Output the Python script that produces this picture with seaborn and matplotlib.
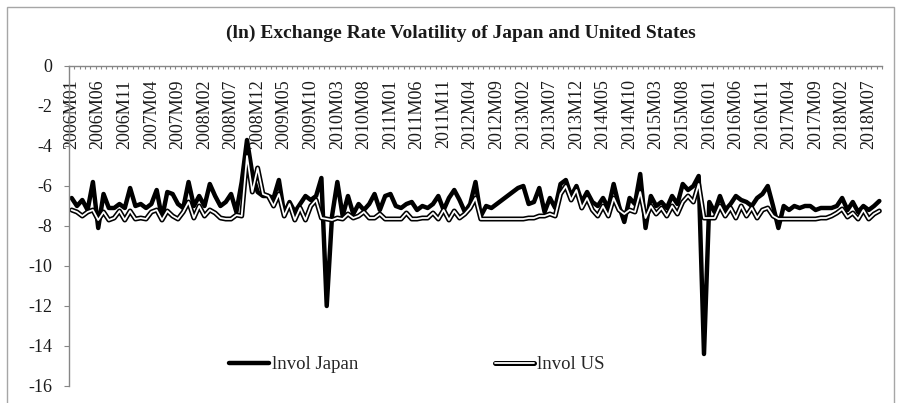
import matplotlib
matplotlib.use("Agg")
import matplotlib.pyplot as plt
import matplotlib.patheffects as pe
from matplotlib.patches import Rectangle
import numpy as np
import pandas as pd
import seaborn as sns

# monthly categories 2006M01 .. 2018M09
months = [f"{y}M{m:02d}" for y in range(2006, 2019) for m in range(1, 13)][:153]

lnvol_japan = [
    -6.6, -7.0, -6.7, -7.2, -5.8, -8.1, -6.4, -7.1, -7.1, -6.9, -7.1, -6.1,   # 2006
    -7.0, -6.9, -7.1, -6.9, -6.2, -7.6, -6.3, -6.4, -6.9, -7.1, -5.8, -7.0,   # 2007
    -6.5, -7.0, -5.9, -6.5, -7.0, -6.8, -6.4, -7.3, -5.8, -3.7, -5.4, -6.3,   # 2008
    -6.5, -6.5, -6.6, -5.7, -7.4, -6.8, -7.3, -6.9, -6.5, -6.7, -6.5, -5.6,   # 2009
    -12.0, -7.5, -5.8, -7.5, -6.5, -7.4, -6.9, -7.2, -6.9, -6.4, -7.2, -6.5,  # 2010
    -6.4, -7.0, -7.1, -6.9, -6.8, -7.2, -7.0, -7.1, -6.9, -6.5, -7.2, -6.6,   # 2011
    -6.2, -6.7, -7.3, -6.9, -5.8, -7.5, -7.0, -7.1, -6.9, -6.7, -6.5, -6.3,   # 2012
    -6.1, -6.0, -6.9, -6.8, -6.1, -7.3, -6.6, -7.1, -5.9, -5.7, -6.5, -6.0,   # 2013
    -6.8, -6.3, -6.8, -7.0, -6.6, -7.1, -5.9, -7.0, -7.8, -6.6, -6.9, -5.4,   # 2014
    -8.1, -6.5, -7.0, -6.8, -7.1, -6.5, -6.9, -5.9, -6.2, -6.0, -5.5, -14.4,  # 2015
    -6.8, -7.3, -6.5, -7.2, -6.9, -6.5, -6.7, -6.8, -7.0, -6.6, -6.4, -6.0,   # 2016
    -7.0, -8.1, -7.0, -7.2, -7.0, -7.1, -7.0, -7.0, -7.2, -7.1, -7.1, -7.1,   # 2017
    -7.0, -6.6, -7.2, -6.8, -7.3, -7.0, -7.2, -7.0, -6.75,                    # 2018
]

lnvol_us = [
    -7.2, -7.3, -7.5, -7.3, -7.2, -7.7, -7.3, -7.7, -7.6, -7.25, -7.7, -7.25,
    -7.65, -7.6, -7.65, -7.3, -7.2, -7.7, -7.25, -7.5, -7.65, -7.3, -6.8, -7.6,
    -7.0, -7.5, -7.2, -7.35, -7.6, -7.65, -7.65, -7.45, -7.5, -4.5, -6.3, -5.1,
    -6.4, -6.5, -7.0, -6.4, -7.5, -6.9, -7.7, -7.1, -7.7, -7.0, -6.7, -7.6,
    -7.65, -7.7, -7.6, -7.65, -7.4, -7.6, -7.5, -7.3, -7.6, -7.6, -7.4, -7.65,
    -7.65, -7.65, -7.65, -7.35, -7.65, -7.65, -7.6, -7.6, -7.35, -7.65, -7.2, -7.7,
    -7.25, -7.6, -7.4, -7.1, -6.6, -7.65, -7.65, -7.65, -7.65, -7.65, -7.65, -7.65,
    -7.65, -7.65, -7.6, -7.6, -7.5, -7.5, -7.4, -7.5, -6.4, -6.0, -6.7, -6.2,
    -7.1, -6.6, -7.2, -7.5, -7.0, -7.5, -6.6, -7.2, -7.4, -7.2, -7.3, -6.3,
    -7.6, -7.0, -7.4, -7.1, -7.5, -7.0, -7.4, -6.8, -6.5, -6.8, -5.9, -7.6,
    -7.6, -7.6, -7.0, -7.5, -7.1, -7.6, -7.0, -7.5, -7.1, -7.6, -7.2, -7.1,
    -7.5, -7.65, -7.65, -7.65, -7.65, -7.65, -7.65, -7.65, -7.65, -7.6, -7.6, -7.5,
    -7.35, -7.15, -7.55, -7.35, -7.65, -7.2, -7.65, -7.4, -7.25,
]

y_ticks = list(range(-16, 1, 2))

df = pd.DataFrame({
    "pos": np.arange(len(months)),
    "month": months,
    "lnvol Japan": lnvol_japan,
    "lnvol US": lnvol_us,
})

sns.set_theme(style="white")
plt.rcParams["font.family"] = ["Liberation Serif", "DejaVu Serif"]
plt.rcParams["axes.unicode_minus"] = False

axis_grey = "#868686"

fig = plt.figure(figsize=(9.01, 4.03), dpi=100)
ax = fig.add_axes([69 / 901, 1 - 386 / 403, 813 / 901, 320 / 403])

sns.lineplot(data=df, x="pos", y="lnvol Japan", ax=ax, color="black",
             lw=3.2, label="lnvol Japan")
sns.lineplot(data=df, x="pos", y="lnvol US", ax=ax, color="white",
             lw=1.3, label="lnvol US",
             path_effects=[pe.Stroke(linewidth=3.6, foreground="black"), pe.Normal()])

ax.set_xlim(-0.5, len(months) - 0.5)
ax.set_ylim(-16, 0)
ax.set_xlabel("")
ax.set_ylabel("")

# category axis sits at y=0 (top), labels hang below it
ax.set_xticks(df["pos"][::5], df["month"][::5])
ax.set_xticks(np.arange(-0.5, len(months), 1), minor=True)
ax.tick_params(axis="x", which="major", bottom=False, labelbottom=False,
               top=True, labeltop=True, length=0, pad=-9.5,
               labelsize=13, labelrotation=90, labelcolor="#1a1a1a")
ax.tick_params(axis="x", which="minor", bottom=False, top=True,
               direction="in", length=2.5, width=0.8, color=axis_grey)
for tick in ax.xaxis.get_major_ticks():
    tick.label2.set_va("top")

ax.set_yticks(y_ticks)
ax.set_yticklabels([str(v) for v in y_ticks])
ax.tick_params(axis="y", left=True, direction="out", length=3.6, width=0.8,
               color=axis_grey, pad=8.5, labelsize=13, labelcolor="#1a1a1a")

for side in ["bottom", "right"]:
    ax.spines[side].set_visible(False)
for side in ["top", "left"]:
    ax.spines[side].set_color(axis_grey)
    ax.spines[side].set_linewidth(1.0)

ax.legend(loc="center", bbox_to_anchor=(0.428, 0.066), ncol=2, frameon=False,
          fontsize=13.5, handlelength=2.1, handletextpad=0.15, columnspacing=7.3)

fig.text(461 / 901, 1 - 33 / 403,
         "(ln) Exchange Rate Volatility of Japan and United States",
         ha="center", va="center", fontsize=14, fontweight="bold", color="#1a1a1a")

fig.patches.append(Rectangle((7 / 901, -0.01), (894 - 7) / 901, 1 - 7 / 403 + 0.01,
                             transform=fig.transFigure, fill=False,
                             edgecolor="#a6a6a6", lw=1.0))

fig.savefig("out.png", dpi=100)
